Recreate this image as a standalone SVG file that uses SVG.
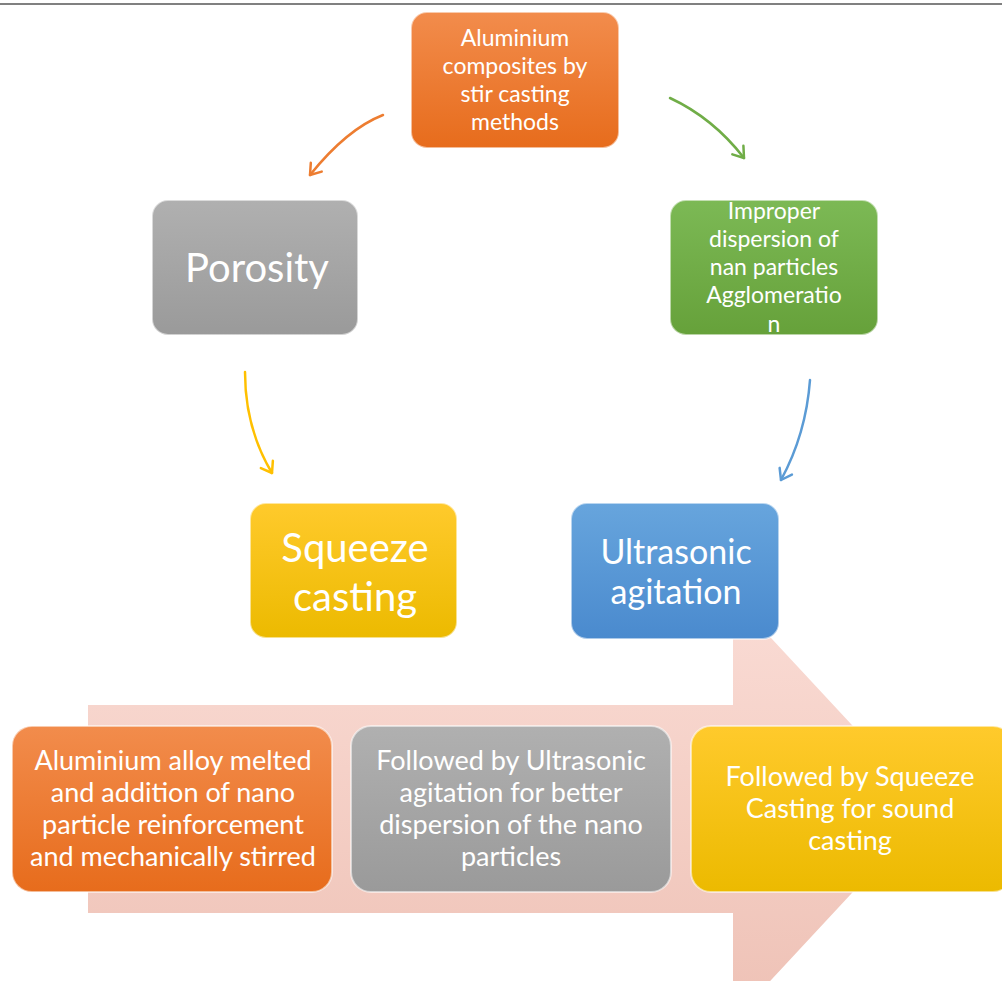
<svg xmlns="http://www.w3.org/2000/svg" width="1002" height="981" viewBox="0 0 1002 981">
<style>
  .t { font-family: Lato, "Open Sans", "Liberation Sans", sans-serif; fill: #ffffff; text-anchor: middle; }
  .s22 { font-size: 23px; }
  .s26 { font-size: 27px; }
  .s34 { font-size: 34px; }
  .s40 { font-size: 40px; }
  .box { stroke: #ffffff; stroke-opacity: 0.55; stroke-width: 2; }
  .conn { fill: none; stroke-width: 2.5; stroke-linecap: round; }
</style>
<defs>
  <linearGradient id="gOr" x1="0" y1="0" x2="0" y2="1"><stop offset="0" stop-color="#f28c4c"/><stop offset="1" stop-color="#e76c1c"/></linearGradient>
  <linearGradient id="gGy" x1="0" y1="0" x2="0" y2="1"><stop offset="0" stop-color="#b0b0b0"/><stop offset="1" stop-color="#9a9a9a"/></linearGradient>
  <linearGradient id="gGr" x1="0" y1="0" x2="0" y2="1"><stop offset="0" stop-color="#7cb955"/><stop offset="1" stop-color="#66a13a"/></linearGradient>
  <linearGradient id="gYe" x1="0" y1="0" x2="0" y2="1"><stop offset="0" stop-color="#ffca2c"/><stop offset="1" stop-color="#ecba00"/></linearGradient>
  <linearGradient id="gBl" x1="0" y1="0" x2="0" y2="1"><stop offset="0" stop-color="#67a5dd"/><stop offset="1" stop-color="#4a8ace"/></linearGradient>
  <linearGradient id="gPk" x1="0" y1="0" x2="0" y2="1"><stop offset="0" stop-color="#fadcd5"/><stop offset="1" stop-color="#eec1b5"/></linearGradient>
  <marker id="mOr" markerUnits="userSpaceOnUse" markerWidth="20" markerHeight="20" viewBox="-12 -10 14 20" refX="0" refY="0" orient="auto"><path d="M-10,-7 L0,0 L-10,7" fill="none" stroke="#ed7d31" stroke-width="2.5" stroke-linecap="round" stroke-linejoin="round"/></marker>
  <marker id="mGr" markerUnits="userSpaceOnUse" markerWidth="20" markerHeight="20" viewBox="-12 -10 14 20" refX="0" refY="0" orient="auto"><path d="M-10,-7 L0,0 L-10,7" fill="none" stroke="#70ad47" stroke-width="2.5" stroke-linecap="round" stroke-linejoin="round"/></marker>
  <marker id="mYe" markerUnits="userSpaceOnUse" markerWidth="20" markerHeight="20" viewBox="-12 -10 14 20" refX="0" refY="0" orient="auto"><path d="M-10,-7 L0,0 L-10,7" fill="none" stroke="#ffc000" stroke-width="2.5" stroke-linecap="round" stroke-linejoin="round"/></marker>
  <marker id="mBl" markerUnits="userSpaceOnUse" markerWidth="20" markerHeight="20" viewBox="-12 -10 14 20" refX="0" refY="0" orient="auto"><path d="M-10,-7 L0,0 L-10,7" fill="none" stroke="#5b9bd5" stroke-width="2.5" stroke-linecap="round" stroke-linejoin="round"/></marker>
</defs>
<rect x="0" y="0" width="1002" height="981" fill="#ffffff"/>
<rect x="0" y="3" width="1002" height="2" fill="#808080"/>

<g id="process-arrow">
  <polygon points="88,705 733,705 733,597 930,809 733,1021 733,913 88,913" fill="url(#gPk)"/>
</g>

<g id="connectors">
  <path class="conn" d="M383,115 Q347,129 310,175" stroke="#ed7d31" marker-end="url(#mOr)"/>
  <path class="conn" d="M670,98 Q713,118 744,158" stroke="#70ad47" marker-end="url(#mGr)"/>
  <path class="conn" d="M245,372 Q245,428 272,473" stroke="#ffc000" marker-end="url(#mYe)"/>
  <path class="conn" d="M810,380 Q806,434 781,480" stroke="#5b9bd5" marker-end="url(#mBl)"/>
</g>

<g id="node-stir">
  <rect class="box" x="411" y="12" width="208" height="136" rx="16" fill="url(#gOr)"/>
  <text class="t s22" x="515" y="46">Aluminium</text>
  <text class="t s22" x="515" y="74">composites by</text>
  <text class="t s22" x="515" y="102">stir casting</text>
  <text class="t s22" x="515" y="130">methods</text>
</g>

<g id="node-porosity">
  <rect class="box" x="152" y="200" width="206" height="135" rx="16" fill="url(#gGy)"/>
  <text class="t s40" x="257" y="282">Porosity</text>
</g>

<g id="node-dispersion">
  <rect class="box" x="670" y="200" width="208" height="135" rx="16" fill="url(#gGr)"/>
  <text class="t s22" x="774" y="219">Improper</text>
  <text class="t s22" x="774" y="247">dispersion of</text>
  <text class="t s22" x="774" y="275">nan particles</text>
  <text class="t s22" x="774" y="303">Agglomeratio</text>
  <text class="t s22" x="774" y="332">n</text>
</g>

<g id="node-squeeze">
  <rect class="box" x="250" y="503" width="207" height="135" rx="16" fill="url(#gYe)"/>
  <text class="t s40" x="355" y="562">Squeeze</text>
  <text class="t s40" x="355" y="611">casting</text>
</g>

<g id="node-ultrasonic">
  <rect class="box" x="571" y="503" width="208" height="136" rx="16" fill="url(#gBl)"/>
  <text class="t s34" x="676" y="564">Ultrasonic</text>
  <text class="t s34" x="676" y="604">agitation</text>
</g>

<g id="step-1">
  <rect class="box" x="12" y="726" width="320" height="166" rx="20" fill="url(#gOr)"/>
  <text class="t s26" x="173" y="770">Aluminium alloy melted</text>
  <text class="t s26" x="173" y="802">and addition of nano</text>
  <text class="t s26" x="173" y="834">particle reinforcement</text>
  <text class="t s26" x="173" y="866">and mechanically stirred</text>
</g>

<g id="step-2">
  <rect class="box" x="351" y="726" width="320" height="166" rx="20" fill="url(#gGy)"/>
  <text class="t s26" x="511" y="770">Followed by Ultrasonic</text>
  <text class="t s26" x="511" y="802">agitation for better</text>
  <text class="t s26" x="511" y="834">dispersion of the nano</text>
  <text class="t s26" x="511" y="866">particles</text>
</g>

<g id="step-3">
  <rect class="box" x="691" y="726" width="322" height="166" rx="20" fill="url(#gYe)"/>
  <text class="t s26" x="850" y="786">Followed by Squeeze</text>
  <text class="t s26" x="850" y="818">Casting for sound</text>
  <text class="t s26" x="850" y="850">casting</text>
</g>
</svg>
